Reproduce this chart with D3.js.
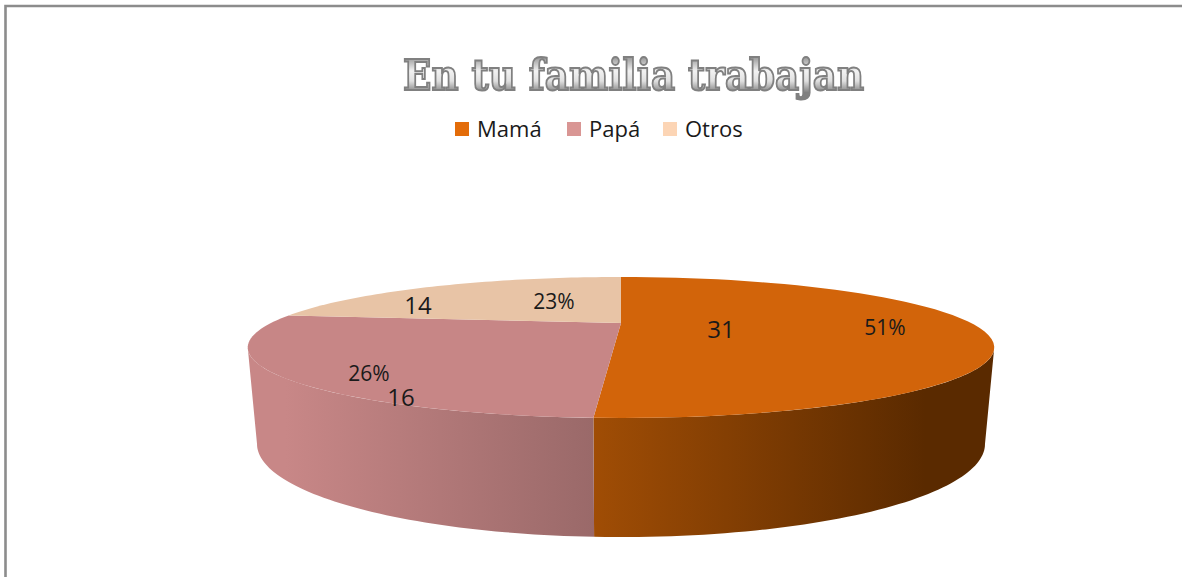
<!DOCTYPE html>
<html><head><meta charset="utf-8">
<script src="https://cdn.jsdelivr.net/npm/d3@7"></script>
<style>html,body{margin:0;padding:0;background:#fff;overflow:hidden}svg{display:block}</style>
</head><body><svg id="c" width="1182" height="577"></svg>
<script>
const categories = ["Mamá", "Papá", "Otros"];
const values = [31, 16, 14];
const percentLabels = ["51%", "26%", "23%"];
const titleText = "En tu familia trabajan";
const legendColors = ["#e36c09", "#d99694", "#fcd5b5"];
const topColors = ["#d2640a", "#c78686", "#e8c4a6"];
const sideStops = [["#a04d05", "#5a2a00"], ["#c88787", "#9a6969"], ["#e8c4a6", "#e8c4a6"]];

const svg = d3.select("#c");
const defs = svg.append("defs");
const font = "'Open Sans','Noto Sans',sans-serif";

// frame
svg.append("path").attr("d", "M5.5,577V6H1182").attr("fill", "none").attr("stroke", "#8c8c8c").attr("stroke-width", 2.6);

// title
const tg = defs.append("linearGradient").attr("id", "tg").attr("x1", 0).attr("x2", 0).attr("y1", 0).attr("y2", 1);
[[0.1, "#8a8a8a"], [0.42, "#f2f2f2"], [0.62, "#e0e0e0"], [0.85, "#808080"]].forEach(s => tg.append("stop").attr("offset", s[0]).attr("stop-color", s[1]));
defs.append("filter").attr("id", "soft").append("feGaussianBlur").attr("stdDeviation", 0.45);
svg.append("text").text(titleText)
  .attr("x", 403).attr("y", 90)
  .attr("textLength", 461).attr("lengthAdjust", "spacingAndGlyphs")
  .attr("font-family", "'DejaVu Serif',serif").attr("font-weight", "bold").attr("font-size", 43)
  .attr("fill", "url(#tg)").attr("stroke", "#808080").attr("stroke-width", 2).attr("paint-order", "normal")
  .attr("filter", "url(#soft)");

// legend
const legendX = d3.scaleOrdinal().domain(categories).range([455, 567, 663]);
const lg = svg.append("g").selectAll("g").data(categories).join("g").attr("transform", d => `translate(${legendX(d)},122)`);
lg.append("rect").attr("width", 14).attr("height", 14).attr("fill", (d, i) => legendColors[i]);
lg.append("text").text(d => d).attr("x", 22).attr("y", 14.5)
  .attr("font-family", font).attr("font-size", 22).attr("fill", "#1a1a1a");

// perspective pie: a circle on a tilted plane
const P = 0.3475;
const topPlane = { cx: 621, cy: 323, A: 350, B: 62 };
const basePlane = { cx: 621, cy: 411.7, A: 341.3, B: 81.8 };
const project = (pl, t) => {
  const u = Math.sin(t), v = -Math.cos(t), w = 1 - P * v;
  return [pl.cx + pl.A * u / w, pl.cy + pl.B * v / w];
};
const arcPts = (pl, a, b) => d3.range(0, 61).map(i => project(pl, a + (b - a) * i / 60));
const line = d3.line();
const arcs = d3.pie().sort(null).value(d => d)(values);

// silhouette limits: the side wall is only visible on the front of the disc
const wallStart = Math.acos(-P), wallEnd = 2 * Math.PI - wallStart;

arcs.forEach((d, i) => {
  const a = Math.max(d.startAngle, wallStart), b = Math.min(d.endAngle, wallEnd);
  if (a >= b) return;
  const top = arcPts(topPlane, a, b), base = arcPts(basePlane, b, a);
  const xs = top.concat(base).map(p => p[0]);
  const g = defs.append("linearGradient").attr("id", "side" + i).attr("gradientUnits", "userSpaceOnUse")
    .attr("x1", i === 0 ? d3.min(xs) : d3.min(xs) + 38).attr("x2", i === 0 ? 925 : d3.max(xs)).attr("y1", 0).attr("y2", 0);
  g.append("stop").attr("offset", 0).attr("stop-color", sideStops[i][0]);
  g.append("stop").attr("offset", 1).attr("stop-color", sideStops[i][1]);
  svg.append("path").attr("d", line(top.concat(base)) + "Z").attr("fill", `url(#side${i})`);
});

arcs.forEach((d, i) => {
  const pts = arcPts(topPlane, d.startAngle, d.endAngle);
  svg.append("path").attr("d", line([[topPlane.cx, topPlane.cy], ...pts]) + "Z").attr("fill", topColors[i]);
});

// data labels
const valuePos = [[721, 338], [401, 406], [418, 314]];
const pctPos = [[885, 335], [369, 381], [554, 309]];
const labels = svg.append("g").attr("font-family", font).attr("fill", "#1a1a1a").attr("text-anchor", "middle");
values.forEach((v, i) => {
  labels.append("text").text(v).attr("x", valuePos[i][0]).attr("y", valuePos[i][1]).attr("font-size", 24);
  labels.append("text").text(percentLabels[i]).attr("x", pctPos[i][0]).attr("y", pctPos[i][1]).attr("font-size", 21);
});
</script></body></html>
